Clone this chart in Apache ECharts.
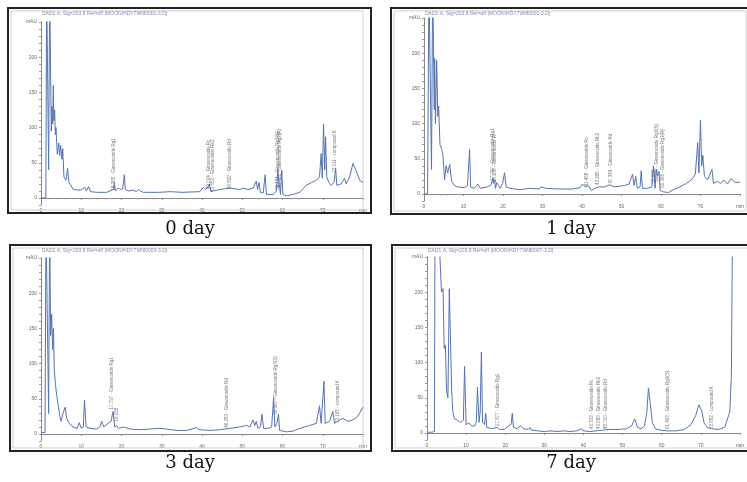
<!DOCTYPE html>
<html>
<head>
<meta charset="utf-8">
<script src="https://cdn.jsdelivr.net/npm/echarts@6/dist/echarts.min.js"></script>
<style>
  html, body { margin: 0; padding: 0; background: #fff; }
  #main { width: 747px; height: 482px; }
</style>
</head>
<body>
<div id="main"></div>
<script>
// 四个色谱图的数据 [保留时间 min, 吸光度 mAU]，超出 250 的峰会被坐标轴截掉
let day0Data = [
    [0, 0], [1.2, 0], [1.4, 300], [1.65, 300], [1.9, 40], [2.15, 300], [2.4, 300], [2.56, 95], [2.73, 130],
    [2.9, 105], [3.06, 160], [3.2, 110], [3.4, 125], [3.56, 90], [3.72, 100], [4.05, 62], [4.4, 78], [4.63, 60],
    [4.88, 75], [5.2, 55], [5.4, 70], [5.7, 30], [6.2, 25], [6.6, 42], [6.95, 22], [7.4, 18], [8.0, 12], [9.7, 11],
    [10.9, 15], [11.3, 10], [11.8, 16], [12.3, 9], [13.8, 8], [16.3, 8], [18.0, 12], [18.2, 22], [18.5, 10],
    [19.2, 14], [19.8, 12], [20.3, 13], [20.7, 33], [20.95, 12], [21.7, 10], [22.9, 11], [23.7, 9], [24.2, 12],
    [24.7, 10], [25.4, 8], [29.5, 8], [32, 9], [35, 8], [39.5, 9], [40.3, 15], [40.8, 12], [41.3, 14], [41.8, 20],
    [42.2, 9], [42.8, 10], [44.4, 12], [46.9, 14], [49.4, 12], [50.2, 14], [51.4, 12], [52.7, 14], [53.5, 24],
    [53.8, 12], [54.2, 22], [54.5, 8], [55.2, 7], [55.7, 33], [56.0, 5], [57.7, 5], [58.5, 10], [58.8, 40],
    [59.2, 38], [59.5, 5], [59.8, 40], [60.1, 5], [61.0, 3], [62.6, 5], [64.3, 8], [65.9, 18], [67.2, 22],
    [68.4, 25], [69.2, 30], [69.6, 63], [69.9, 28], [70.2, 105], [70.5, 40], [70.7, 87], [71.0, 30], [71.5, 22],
    [72.1, 18], [72.8, 22], [73.2, 42], [73.5, 18], [74.6, 20], [75.4, 28], [75.8, 20], [76.7, 30], [77.5, 49],
    [78.2, 40], [79.2, 25], [80, 22]
];

let day1Data = [
    [0, 0], [0.9, 0], [1.25, 300], [1.7, 300], [1.9, 35], [2.2, 300], [2.6, 120], [2.7, 193], [2.9, 100],
    [3.2, 190], [3.5, 110], [3.7, 125], [4.05, 70], [4.4, 65], [4.8, 55], [5.2, 20], [5.6, 40], [6.0, 30],
    [6.5, 42], [7.0, 18], [7.7, 12], [8.5, 10], [10.2, 9], [11.0, 12], [11.55, 63], [11.8, 10], [12.7, 8],
    [13.6, 14], [14.3, 8], [16.0, 10], [17.0, 13], [17.4, 22], [17.6, 15], [17.9, 20], [18.1, 8], [18.4, 16],
    [18.9, 12], [19.3, 8], [19.9, 15], [20.4, 30], [20.8, 10], [21.8, 8], [24.2, 6], [26.7, 8], [29.2, 7],
    [29.6, 10], [30.9, 8], [34.2, 7], [37.5, 7], [39.5, 9], [40.1, 14], [40.8, 10], [41.6, 12], [42.4, 5],
    [43.3, 8], [44.1, 10], [45.7, 10], [47.0, 13], [48.2, 10], [50.7, 12], [51.9, 14], [52.8, 28], [53.2, 12],
    [53.6, 25], [54.0, 8], [54.7, 10], [55.0, 33], [55.3, 8], [56.5, 8], [57.7, 10], [58.1, 40], [58.5, 8],
    [58.8, 35], [59.1, 25], [59.5, 32], [59.8, 5], [60.6, 3], [61.9, 2], [63.1, 6], [64.8, 10], [66.4, 15],
    [67.7, 20], [68.7, 28], [69.3, 73], [69.6, 30], [70.0, 105], [70.3, 40], [70.6, 55], [71.0, 25], [71.8, 20],
    [72.9, 35], [73.3, 15], [74.3, 18], [75.1, 15], [75.9, 20], [76.8, 14], [77.8, 22], [78.8, 16], [80, 17]
];

let day3Data = [
    [0, 2], [1.0, 2], [1.24, 300], [1.65, 300], [1.9, 29], [2.15, 300], [2.4, 140], [2.65, 170], [2.9, 120],
    [3.1, 150], [3.3, 90], [3.6, 70], [3.9, 55], [4.3, 40], [4.7, 25], [5.0, 18], [5.5, 30], [6.0, 38],
    [6.4, 22], [7.0, 15], [8.0, 10], [9.0, 8], [9.5, 16], [10.0, 8], [10.5, 10], [10.8, 48], [11.2, 10],
    [12.2, 8], [13.8, 7], [14.6, 10], [15.1, 18], [15.6, 10], [16.7, 15], [17.4, 18], [17.9, 32], [18.3, 10],
    [18.8, 12], [19.3, 8], [20.4, 10], [22.1, 7], [24.6, 6], [27.0, 7], [29.5, 8], [31.2, 7], [33.7, 5],
    [36.1, 5], [38.6, 9], [39.5, 6], [41.9, 5], [44.4, 6], [46.9, 8], [49.4, 10], [51.0, 12], [51.9, 10],
    [52.7, 20], [53.1, 12], [53.5, 18], [53.9, 8], [54.5, 10], [54.9, 28], [55.3, 8], [56.4, 8], [57.3, 10],
    [57.8, 52], [58.1, 10], [58.6, 15], [59.0, 28], [59.3, 5], [61.0, 3], [62.6, 4], [64.3, 8], [66.7, 12],
    [68.4, 15], [69.2, 40], [69.6, 15], [70.3, 75], [70.6, 15], [71.7, 18], [72.5, 32], [72.9, 15], [74.2, 20],
    [75.0, 22], [76.3, 18], [77.5, 20], [78.7, 25], [80, 38]
];

let day7Data = [
    [0, 1], [1.2, 1], [1.9, 2], [2.05, 300], [2.9, 300], [3.4, 300], [3.7, 200], [4.1, 205], [4.4, 120],
    [4.7, 125], [5.0, 60], [5.35, 50], [5.7, 205], [6.1, 205], [6.3, 60], [6.6, 30], [7.0, 20], [7.8, 18],
    [8.6, 15], [9.3, 18], [9.6, 95], [10.0, 12], [10.7, 14], [11.5, 10], [12.2, 10], [12.6, 15], [12.9, 65],
    [13.3, 15], [13.6, 30], [13.9, 115], [14.2, 15], [14.7, 12], [15.0, 28], [15.3, 8], [16.5, 6], [17.9, 8],
    [18.5, 5], [19.8, 5], [20.8, 10], [21.5, 12], [21.8, 28], [22.1, 8], [23.0, 6], [23.9, 10], [24.7, 6],
    [25.9, 5], [26.3, 8], [26.7, 4], [28.4, 3], [30.0, 2], [31.7, 3], [33.3, 2], [35.0, 3], [36.6, 2],
    [38.3, 3], [39.5, 6], [39.9, 3], [41.6, 2], [43.2, 3], [44.9, 4], [46.5, 5], [49.0, 5], [51.0, 6],
    [52.3, 10], [53.1, 20], [53.8, 8], [54.7, 6], [55.6, 10], [56.2, 30], [56.6, 64], [57.0, 45], [57.6, 15],
    [58.4, 6], [59.7, 4], [61.3, 3], [63.8, 3], [65.8, 5], [67.5, 12], [68.7, 25], [69.5, 40], [70.2, 32],
    [70.8, 15], [71.6, 8], [72.8, 6], [74.5, 5], [76.1, 8], [77.4, 30], [77.8, 80], [78.1, 300], [80, 300]
];

// 峰的标注 [保留时间, 文字起点高度, 文字]
let day0Peaks = [
    [18.2, 10, '18.385 - Ginsenoside Rg1'], [41.9, 12, '42.014 - Ginsenoside Rc'],
    [42.9, 8, '43.552 - Ginsenoside Rb2'], [46.9, 12, '46.822 - Ginsenoside Rd'],
    [58.9, 11, '59.121 - Ginsenoside Rg3(S)'], [59.4, 14, '59.421 - Ginsenoside Rg3(R)'],
    [73.2, 35, '73.011 - compound K']
];
let day1Peaks = [
    [17.6, 18, '17.797 - Ginsenoside Rg1'], [18.0, 16, '18.108 - Ginsenoside Rf'],
    [41.4, 10, '41.468 - Ginsenoside Rc'], [44.0, 12, '43.995 - Ginsenoside Rb2'],
    [47.3, 14, '47.384 - Ginsenoside Rd'], [58.2, 14, '58.288'],
    [59.0, 16, '59.357 - Ginsenoside Rg3(S)'], [60.6, 8, '60.368 - Ginsenoside Rg3(R)']
];
let day3Peaks = [
    [17.6, 34, '17.797 - Ginsenoside Rg1'], [18.9, 17, '19.028'],
    [46.3, 8, '46.283 - Ginsenoside Rd'], [58.5, 27, '58.367 - Ginsenoside Rg3(S)'],
    [73.8, 15, '73.165 - compound K']
];
let day7Peaks = [
    [18.1, 9, '17.877 - Ginsenoside Rg1'], [42.2, 5, '42.333 - Ginsenoside Rc'],
    [44.0, 5, '43.680 - Ginsenoside Rb2'], [45.8, 5, '45.700 - Ginsenoside Rd'],
    [61.7, 5, '61.493 - Ginsenoside Rg3(S)'], [72.8, 5, '72.682 - compound K']
];

// 图下方的标题和图内的信号说明
let panelNames = ['0 day', '1 day', '3 day', '7 day'];
let signalNames = [
    'DAD1 A, Sig=203,8 Ref=off (MOON\\HDY7W\\80001-3.D)',
    'DAD1 A, Sig=203,8 Ref=off (MOON\\HDY7W\\80002-3.D)',
    'DAD1 A, Sig=203,8 Ref=off (MOON\\HDY7W\\80003-3.D)',
    'DAD1 A, Sig=203,8 Ref=off (MOON\\HDY7W\\80007-3.D)'
];

let allData = [day0Data, day1Data, day3Data, day7Data];
let allPeaks = [day0Peaks, day1Peaks, day3Peaks, day7Peaks];

// 每个小图的位置
let grids = [
    { left: 41, top: 22, width: 322, height: 183 },
    { left: 424, top: 18, width: 322, height: 183 },
    { left: 41, top: 258, width: 322, height: 183 },
    { left: 427, top: 257, width: 325, height: 183 }
];
let frames = [
    { x: 8, y: 8, w: 363, h: 205 },
    { x: 391, y: 8, w: 370, h: 206 },
    { x: 10, y: 245, w: 361, h: 206 },
    { x: 392, y: 245, w: 370, h: 206 }
];
let captionPos = [[190, 229], [571, 229], [190, 463], [571, 463]];

let lineColor = '#5573b0';

let myChart = echarts.init(document.getElementById('main'));

let xAxes = [], yAxes = [], series = [], graphics = [];

for (let i = 0; i < 4; i++) {
    xAxes.push({
        type: 'value', gridIndex: i, min: 0, max: 80, interval: 10,
        axisLine: { lineStyle: { color: '#888', width: 1 } },
        axisTick: { length: 2, lineStyle: { color: '#888' } },
        minorTick: { show: true, splitNumber: 5, length: 1.5, lineStyle: { color: '#999' } },
        splitLine: { show: false },
        axisLabel: {
            fontSize: 5, color: '#666', margin: 3,
            formatter: function (v) { return v === 80 ? 'min' : v; }
        }
    });
    yAxes.push({
        type: 'value', gridIndex: i, min: -10, max: 250, interval: 10,
        axisLine: { show: true, lineStyle: { color: '#888', width: 1 } },
        axisTick: { show: true, length: 2, lineStyle: { color: '#999' } },
        splitLine: { show: false },
        axisLabel: {
            fontSize: 5, color: '#666', margin: 4,
            formatter: function (v) {
                if (v === 250) return 'mAU';
                if (v >= 0 && v % 50 === 0) return v;
                return '';
            }
        }
    });
    series.push({
        type: 'line', xAxisIndex: i, yAxisIndex: i,
        data: allData[i], symbol: 'none', clip: true,
        lineStyle: { color: lineColor, width: 1 }
    });
    series.push({
        type: 'scatter', xAxisIndex: i, yAxisIndex: i,
        symbolSize: 1, itemStyle: { color: 'transparent' },
        data: allPeaks[i].map(function (p) { return { value: [p[0], p[1]], name: p[2] }; }),
        label: {
            show: true, formatter: '{b}', rotate: 90, position: [0, 0],
            align: 'left', verticalAlign: 'middle', fontSize: 4.5, color: '#555'
        }
    });

    let f = frames[i];
    // 外框
    graphics.push({
        type: 'rect', shape: { x: f.x, y: f.y, width: f.w, height: f.h },
        style: { fill: null, stroke: '#222', lineWidth: 2 }, z: 1
    });
    // 内部浅色框
    graphics.push({
        type: 'rect', shape: { x: f.x + 3, y: f.y + 3, width: grids[i].left + grids[i].width - f.x - 3, height: f.h - 6 },
        style: { fill: null, stroke: '#cfcfcf', lineWidth: 1 }, z: 1
    });
    graphics.push({
        type: 'text', x: grids[i].left + 1, y: f.y + 3,
        style: { text: signalNames[i], fill: '#7d8cb4', font: '5px sans-serif' }, z: 2
    });
    graphics.push({
        type: 'text', x: captionPos[i][0], y: captionPos[i][1],
        style: {
            text: panelNames[i], fill: '#111', align: 'center', verticalAlign: 'middle',
            font: '18px "DejaVu Serif", serif'
        }, z: 2
    });
}

let option = {
    animation: false,
    grid: grids,
    xAxis: xAxes,
    yAxis: yAxes,
    series: series,
    graphic: graphics
};

myChart.setOption(option);
</script>
</body>
</html>
